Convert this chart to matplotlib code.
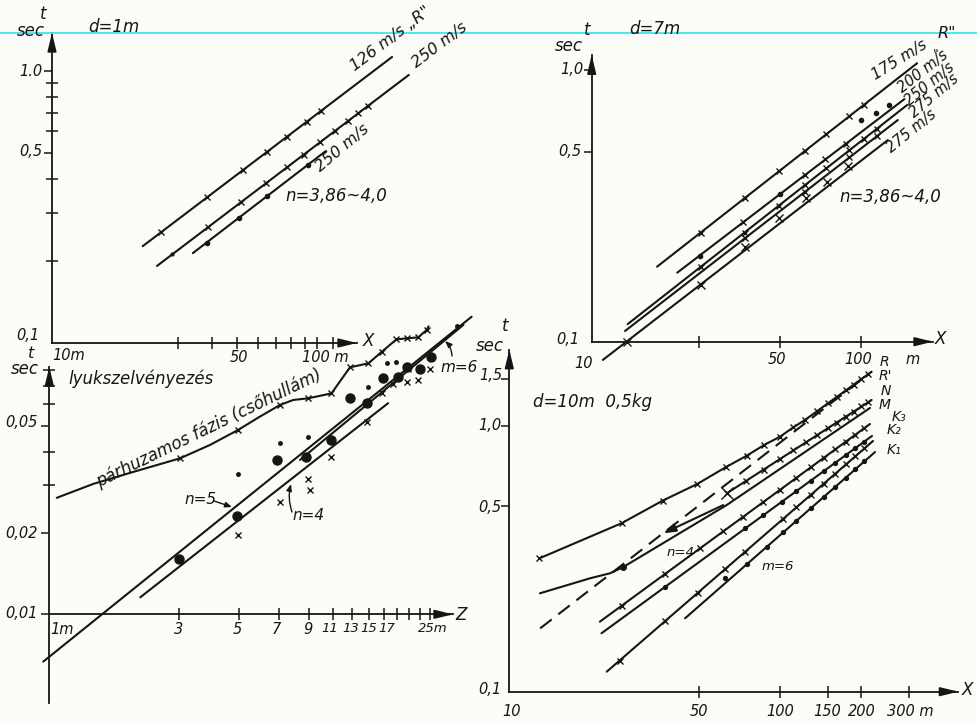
import matplotlib
matplotlib.use('Agg')
import matplotlib.pyplot as plt
from matplotlib.ticker import FixedLocator, NullLocator
from matplotlib.lines import Line2D

plt.rcParams['font.family'] = ['DejaVu Sans']
plt.rcParams['font.style'] = 'italic'

W, H = 977, 722
INK = '#151515'

# ---------------- data: top-left panel (d = 1 m) ----------------
tl_a_x = [22.0, 192.0]; tl_a_t = [0.227, 1.126]
tl_a_mx = [25.8, 38.5, 52.6, 64.7, 77.1, 91.6, 103.5]
tl_a_mt = [0.255, 0.343, 0.431, 0.503, 0.573, 0.650, 0.711]
tl_b_x = [24.9, 222.0]; tl_b_t = [0.192, 0.967]
tl_b_mx = [38.8, 51.6, 64.2, 77.1, 89.3, 102.6, 116.9, 131, 143, 156]
tl_b_mt = [0.267, 0.329, 0.387, 0.443, 0.493, 0.547, 0.602, 0.655, 0.699, 0.745]
tl_c_x = [34.0, 108.0]; tl_c_t = [0.214, 0.508]
tl_c_dx = [38.4, 50.8, 64.7, 92.4]; tl_c_dt = [0.234, 0.289, 0.346, 0.452]
tl_xticks = [30, 40, 50, 60, 70, 80, 90, 100, 115]
tl_yticks = [0.5, 1.0]
tl_yminor = [0.2, 0.3, 0.4, 0.6, 0.7, 0.8, 0.9]

# ---------------- data: top-right panel (d = 7 m) ----------------
tr_a_x = [17.5, 162.0]; tr_a_t = [0.1887, 1.056]
tr_a_mx = [25.4, 37.0, 49.6, 62.1, 74.6, 90.7, 102.6]
tr_a_mt = [0.252, 0.337, 0.423, 0.503, 0.580, 0.674, 0.742]
tr_b_x = [20.8, 145.4]; tr_b_t = [0.1794, 0.780]
tr_b_mx = [36.6, 62.1, 73.9, 88.2]; tr_b_mt = [0.275, 0.410, 0.468, 0.535]
tr_b_dx = [25.2, 50.0, 100.2, 114.0, 127.9]; tr_b_dt = [0.2074, 0.348, 0.653, 0.691, 0.742]
tr_c_x = [13.6, 148.9]; tr_c_t = [0.116, 0.742]
tr_c_mx = [25.4, 37.0, 49.6, 62.1, 74.6, 90.7, 102.6, 115]
tr_c_mt = [0.188, 0.252, 0.3165, 0.377, 0.434, 0.505, 0.556, 0.607]
tr_d_x = [13.3, 137.4]; tr_d_t = [0.1095, 0.653]
tr_d_mx = [37.0, 62.1, 90.7, 115]; tr_d_mt = [0.2396, 0.356, 0.4756, 0.5704]
tr_e_x = [11.0, 126.1]; tr_e_t = [0.0857, 0.551]
tr_e_mx = [13.5, 25.4, 37.0, 49.7, 62.5, 75.2, 89.8]
tr_e_mt = [0.100, 0.1616, 0.2235, 0.284, 0.3367, 0.3876, 0.4436]
tr_xticks = [25, 50, 100]
tr_yticks = [0.5, 1.0]

# ---------------- data: bottom-left panel (lyukszelvényezés) ----------------
bl_p_x = [1.065, 1.45, 2.04, 3.02, 3.9, 4.95, 5.95, 7.05, 7.88, 8.96, 10.9, 12.75,
          14.9, 16.7, 18.9, 20.6, 22.7, 24.4, 24.8]
bl_p_t = [0.0270, 0.0304, 0.0337, 0.0378, 0.0424, 0.0482, 0.054, 0.0596, 0.0622, 0.0631,
          0.0658, 0.0822, 0.085, 0.0939, 0.1043, 0.1052, 0.1061, 0.113, 0.1165]
bl_p_mx = [3.02, 4.95, 7.05, 8.96, 10.9, 12.75, 14.9, 16.7, 18.9, 20.6, 22.7, 24.4]
bl_p_mt = [0.0378, 0.0482, 0.0596, 0.0631, 0.0658, 0.0822, 0.085, 0.0939, 0.1043, 0.1052, 0.1061, 0.113]
bl_n5_x = [0.95, 35.7]; bl_n5_t = [0.00668, 0.1265]
bl_n4_x = [2.16, 17.6]; bl_n4_t = [0.01156, 0.0605]
bl_m6_x = [8.35, 33.3]; bl_m6_t = [0.0373, 0.118]
bl_big_x = [3.0, 4.9, 6.85, 8.8, 10.9, 12.75, 14.7, 16.9, 19.2, 20.6, 23.0, 25.4]
bl_big_t = [0.016, 0.0231, 0.0373, 0.0384, 0.0442, 0.063, 0.0605, 0.0748, 0.0757, 0.0827, 0.0813, 0.090]
bl_dot_x = [4.95, 7.05, 8.96, 14.9, 17.4, 18.9, 31.5]
bl_dot_t = [0.0331, 0.0432, 0.0455, 0.0697, 0.085, 0.086, 0.1165]
bl_x_x = [4.95, 7.05, 8.96, 9.1, 10.9, 14.7, 16.7, 18.4, 20.9, 20.6, 22.7, 25.0]
bl_x_t = [0.0197, 0.0261, 0.0316, 0.0288, 0.0384, 0.0517, 0.066, 0.071, 0.081, 0.0727, 0.0738, 0.0813]
bl_xticks = [3, 5, 7, 9, 11, 13, 15, 17, 19, 21, 23, 25]
bl_yticks = [0.01, 0.02, 0.05]
bl_yminor = [0.03, 0.04, 0.06, 0.07, 0.08]

# ---------------- data: bottom-right panel (d = 10 m, 0,5 kg) ----------------
br_r_x = [12.9, 26.0, 36.9, 49.5, 63.0, 75.3, 87.3, 100, 112, 123.5, 137, 150, 162, 175, 187, 200, 212, 218]
br_r_t = [0.317, 0.430, 0.523, 0.604, 0.698, 0.771, 0.846, 0.909, 0.986, 1.05, 1.133, 1.212,
          1.282, 1.357, 1.426, 1.499, 1.563, 1.596]
br_rp_x = [13.0, 205.0]; br_rp_t = [0.173, 1.52]
br_n_x = [63.6, 218.0]; br_n_t = [0.557, 1.249]
br_n_mx = [63.6, 75, 87, 100, 112, 125, 137, 150, 162, 175, 187, 200, 212]
br_n_mt = [0.557, 0.620, 0.684, 0.749, 0.807, 0.867, 0.921, 0.978, 1.028, 1.082, 1.130, 1.181, 1.227]
br_m_x = [12.98, 19.87, 23.55, 26.37, 63.55, 215.0]
br_m_t = [0.2344, 0.2669, 0.2787, 0.2943, 0.5032, 1.166]
br_arrow_x = [61.7, 37.1]; br_arrow_t = [0.503, 0.394]
br_k3_x = [21.6, 215.0]; br_k3_t = [0.1833, 1.015]
br_k3_mx = [26, 37.6, 50.6, 61.7, 73.2, 86.8, 100, 115, 130, 145, 160, 175, 190, 205]
br_k3_mt = [0.210, 0.277, 0.346, 0.401, 0.455, 0.517, 0.574, 0.637, 0.698, 0.757, 0.815, 0.871, 0.926, 0.980]
br_k2_x = [21.9, 218.7]; br_k2_t = [0.1658, 0.915]
br_k2_dx = [37.6, 74.3, 86.8, 101.5, 115, 130, 145, 160, 175, 190, 205]
br_k2_dt = [0.248, 0.411, 0.461, 0.517, 0.567, 0.622, 0.674, 0.725, 0.775, 0.824, 0.871]
br_k1_x = [22.9, 220.6]; br_k1_t = [0.1189, 0.876]
br_k1_mx = [25.6, 37.6, 49.9, 62.6, 74.3, 102.8, 115, 130, 145, 160, 175, 190, 205]
br_k1_mt = [0.131, 0.184, 0.236, 0.289, 0.336, 0.447, 0.494, 0.550, 0.605, 0.661, 0.715, 0.768, 0.822]
br_k0_x = [44.6, 224.4]; br_k0_t = [0.1888, 0.796]
br_k0_dx = [62.6, 75.3, 89.3, 102.8, 115, 130, 145, 160, 175, 190, 205]
br_k0_dt = [0.267, 0.301, 0.350, 0.397, 0.439, 0.490, 0.540, 0.589, 0.638, 0.686, 0.734]
br_xticks = [50, 100, 150, 200, 300]
br_yticks = [0.5, 1.0, 1.5]

# ---------------- figure ----------------
fig = plt.figure(figsize=(W / 100, H / 100), dpi=100)
fig.patch.set_facecolor('#fdfdf7')


def T(px, py, s, size=11, rot=0, ha='center', va='center'):
    fig.text(px / W, 1 - py / H, s, fontsize=size, rotation=rot, ha=ha, va=va,
             rotation_mode='anchor', color=INK, style='italic')


def arrow_fig(p0, p1, rad=0.0):
    fig.add_artist(matplotlib.patches.FancyArrowPatch(
        (p0[0] / W, 1 - p0[1] / H), (p1[0] / W, 1 - p1[1] / H), transform=fig.transFigure,
        arrowstyle='-|>,head_length=4,head_width=1.6', connectionstyle=f'arc3,rad={rad}',
        color=INK, lw=1.0, shrinkA=0, shrinkB=0))


def make_ax(frame, origin, oval, xdec, ydec, xb, yb, xmaj, ymaj, yminr):
    L, Tp, R, B = frame
    ox, oy = origin
    xv, yv = oval
    ax = fig.add_axes([L / W, 1 - B / H, (R - L) / W, (B - Tp) / H])
    ax.set_xscale('log'); ax.set_yscale('log')
    ax.set_xlim(xv * 10 ** ((L - ox) / xdec), xv * 10 ** ((R - ox) / xdec))
    ax.set_ylim(yv * 10 ** ((oy - B) / ydec), yv * 10 ** ((oy - Tp) / ydec))
    ax.patch.set_alpha(0)
    for s in ['top', 'right']:
        ax.spines[s].set_visible(False)
    ax.spines['left'].set_position(('data', xv))
    ax.spines['bottom'].set_position(('data', yv))
    ax.spines['left'].set_bounds(*yb)
    ax.spines['bottom'].set_bounds(*xb)
    for s in ['left', 'bottom']:
        ax.spines[s].set_linewidth(1.3)
        ax.spines[s].set_color(INK)
    ax.xaxis.set_major_locator(FixedLocator(xmaj))
    ax.xaxis.set_minor_locator(NullLocator())
    ax.yaxis.set_major_locator(FixedLocator(ymaj))
    ax.yaxis.set_minor_locator(FixedLocator(yminr) if yminr else NullLocator())
    ax.tick_params(axis='x', which='major', direction='inout', length=8, width=1.1,
                   color=INK, labelbottom=False)
    ax.tick_params(axis='y', which='major', direction='out', length=6, width=1.1,
                   color=INK, labelleft=False)
    ax.tick_params(axis='y', which='minor', direction='inout', length=9, width=1.1,
                   color=INK, labelleft=False)
    ap = dict(arrowstyle='-|>,head_length=0.9,head_width=0.22', color=INK, lw=1.3,
              shrinkA=0, shrinkB=0, mutation_scale=12)
    ax.annotate('', xy=(xb[1], yv), xytext=(xb[1] / 1.06, yv), arrowprops=ap, annotation_clip=False)
    ax.annotate('', xy=(xv, yb[1]), xytext=(xv, yb[1] / 1.06), arrowprops=ap, annotation_clip=False)
    return ax


LW = 1.5
def line(ax, x, t, **kw):
    ax.plot(x, t, color=INK, lw=kw.pop('lw', LW), clip_on=False, solid_capstyle='round', **kw)

def xm(ax, x, t, ms=5.0):
    ax.plot(x, t, ls='none', marker='x', ms=ms, mew=1.0, color=INK, clip_on=False)

def dots(ax, x, t, ms=3.0):
    ax.plot(x, t, ls='none', marker='o', ms=ms, color=INK, clip_on=False)


# cyan guide line of the scan
fig.add_artist(Line2D([0, 1], [1 - 33 / H] * 2, color='#3fe3ec', lw=1.3, transform=fig.transFigure))

# ======== Top-left ========
tl = make_ax((30, 20, 480, 345), (52, 343), (10, 0.1), 265, 272,
             (10, 141.6), (0.1, 1.38), tl_xticks, tl_yticks, tl_yminor)
line(tl, tl_a_x, tl_a_t); xm(tl, tl_a_mx, tl_a_mt)
line(tl, tl_b_x, tl_b_t); xm(tl, tl_b_mx, tl_b_mt); dots(tl, [28.4], [0.212], ms=2)
line(tl, tl_c_x, tl_c_t); dots(tl, tl_c_dx, tl_c_dt)
T(43, 14, 't', 12); T(31, 31, 'sec', 12)
T(114, 27, 'd=1m', 12)
T(31, 71, '1.0', 10.5); T(31, 152, '0,5', 10.5); T(28, 336, '0,1', 10.5)
T(69, 355, '10m', 10.5); T(239, 358, '50', 10.5); T(325, 358, '100 m', 10.5)
T(368, 341, 'X', 12)
T(355, 71, '126 m/s „R"', 11.5, rot=37, ha='left', va='baseline')
T(416, 68, '250 m/s', 11.5, rot=37, ha='left', va='baseline')
T(320, 172, '250 m/s', 11.5, rot=40, ha='left', va='baseline')
T(336, 196, 'n=3,86~4,0', 12)

# ======== Top-right ========
tr = make_ax((560, 20, 970, 365), (591.7, 341.7), (10, 0.1), 269, 272,
             (10, 185.7), (0.1, 1.13), tr_xticks, tr_yticks, [])
line(tr, tr_a_x, tr_a_t); xm(tr, tr_a_mx, tr_a_mt)
line(tr, tr_b_x, tr_b_t); xm(tr, tr_b_mx, tr_b_mt); dots(tr, tr_b_dx, tr_b_dt)
line(tr, tr_c_x, tr_c_t); xm(tr, tr_c_mx, tr_c_mt)
line(tr, tr_d_x, tr_d_t); xm(tr, tr_d_mx, tr_d_mt)
line(tr, tr_e_x, tr_e_t); xm(tr, tr_e_mx, tr_e_mt, ms=6)
T(587, 30, 't', 12); T(569, 46, 'sec', 12)
T(655, 29, 'd=7m', 12)
T(572, 69, '1,0', 10.5); T(570, 151, '0,5', 10.5); T(568, 339, '0,1', 10.5)
T(584, 363, '10', 10.5); T(777, 360, '50', 10.5); T(858, 360, '100', 10.5); T(913, 360, 'm', 10.5)
T(940, 339, 'X', 12)
T(875, 80, '175 m/s', 11, rot=32, ha='left', va='baseline')
T(947, 33, 'R"', 11.5)
T(936, 54, '"', 9)
T(902, 93, '200 m/s', 10.5, rot=38, ha='left', va='baseline')
T(909, 106, '250 m/s', 10.5, rot=39, ha='left', va='baseline')
T(914, 118, '275 m/s', 10.5, rot=40, ha='left', va='baseline')
T(891, 153, '275 m/s', 10.5, rot=39, ha='left', va='baseline')
T(890, 197, 'n=3,86~4,0', 12)

# ======== Bottom-left ========
bl = make_ax((30, 330, 480, 710), (49.3, 614.3), (1, 0.01), 272, 270,
             (1, 30.5), (0.00469, 0.0824), bl_xticks, bl_yticks, bl_yminor)
line(bl, bl_p_x, bl_p_t); xm(bl, bl_p_mx, bl_p_mt)
line(bl, bl_n5_x, bl_n5_t); line(bl, bl_n4_x, bl_n4_t); line(bl, bl_m6_x, bl_m6_t)
dots(bl, bl_big_x, bl_big_t, ms=6.5); dots(bl, bl_dot_x, bl_dot_t, ms=2.5)
xm(bl, bl_x_x, bl_x_t, ms=5)
T(31, 354, 't', 11.5); T(25, 369, 'sec', 12)
T(21, 423, '0,05', 10.5); T(21, 533, '0,02', 10.5); T(21, 614, '0,01', 10.5)
T(62, 629, '1m', 10.5)
for xp, lab in [(179, '3'), (237, '5'), (276, '7'), (308, '9')]:
    T(xp, 629, lab, 10.5)
for xp, lab in [(330, '11'), (351, '13'), (369, '15'), (387, '17'), (433, '25m')]:
    T(xp, 629, lab, 9.5)
T(461, 615, 'Z', 12)
T(68, 379, 'lyukszelvényezés', 12, ha='left')
T(209, 428, 'párhuzamos fázis (csőhullám)', 12, rot=26)
T(201, 499, 'n=5', 11); arrow_fig((214, 501), (232, 507))
T(309, 516, 'n=4', 11); arrow_fig((292, 512), (291, 484), rad=-0.15)
T(459, 367, 'm=6', 11); arrow_fig((452, 356), (445, 341), rad=0.2)

# ======== Bottom-right ========
br = make_ax((490, 340, 970, 700), (509.3, 691.7), (10, 0.1), 270.7, 266,
             (10, 456), (0.1, 1.93), br_xticks, br_yticks, [])
line(br, br_r_x, br_r_t); xm(br, br_r_x[:-1], br_r_t[:-1])
line(br, br_rp_x, br_rp_t, ls=(0, (7, 4)))
line(br, br_n_x, br_n_t); xm(br, br_n_mx, br_n_mt)
xm(br, br_n_mx[:1], br_n_mt[:1], ms=8)
line(br, br_m_x, br_m_t); dots(br, br_m_x[3:4], br_m_t[3:4], ms=4)
br.annotate('', xy=(br_arrow_x[1], br_arrow_t[1]), xytext=(br_arrow_x[0], br_arrow_t[0]),
            arrowprops=dict(arrowstyle='-|>,head_length=0.6,head_width=0.2', color=INK, lw=LW,
                            shrinkA=0, shrinkB=0, mutation_scale=12), annotation_clip=False)
line(br, br_k3_x, br_k3_t); xm(br, br_k3_mx, br_k3_mt, ms=4.5)
line(br, br_k2_x, br_k2_t); dots(br, br_k2_dx, br_k2_dt, ms=2.8)
line(br, br_k1_x, br_k1_t); xm(br, br_k1_mx, br_k1_mt, ms=4.5)
line(br, br_k0_x, br_k0_t); dots(br, br_k0_dx, br_k0_dt, ms=2.8)
T(505, 326, 't', 12); T(490, 346, 'sec', 12)
T(491, 375, '1,5', 10.5); T(490, 426, '1,0', 10.5); T(490, 507, '0,5', 10.5); T(490, 689, '0,1', 10.5)
for xp, lab in [(512, '10'), (699, '50'), (780, '100'), (827, '150'), (862, '200'), (910, '300 m')]:
    T(xp, 712, lab, 10.5)
T(967, 690, 'X', 12)
T(533, 402, 'd=10m  0,5kg', 12, ha='left')
T(680, 553, 'n=4', 9.5)
T(778, 567, 'm=6', 9.5)
for xp, yp, lab in [(880, 362, 'R'), (879, 376, "R'"), (881, 391, 'N'), (879, 405, 'M'),
                    (892, 417, 'K₃'), (887, 430, 'K₂'), (887, 450, 'K₁')]:
    T(xp, yp, lab, 10, ha='left')

fig.savefig('out.png', dpi=100, facecolor=fig.get_facecolor())
